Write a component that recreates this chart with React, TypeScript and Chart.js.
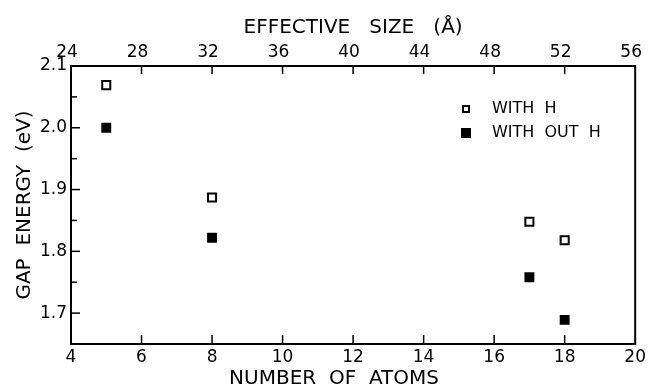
import React, { useEffect, useRef } from 'react';
import { Chart, registerables } from 'chart.js';

Chart.register(...registerables);

// ---- data ----
const atomsWithH = [5, 8, 17, 18];
const gapWithH = [2.069, 1.887, 1.848, 1.818];
const atomsWithoutH = [5, 8, 17, 18];
const gapWithoutH = [2.0, 1.822, 1.758, 1.689];
const seriesLabels = ['WITH  H', 'WITH  OUT  H'];
const atomTicks = [4, 6, 8, 10, 12, 14, 16, 18, 20];
const sizeTicks = [24, 28, 32, 36, 40, 44, 48, 52, 56];
const gapTickLabels = ['1.7', '1.8', '1.9', '2.0', '2.1'];
const xTitle = 'NUMBER  OF  ATOMS';
const x2Title = 'EFFECTIVE   SIZE   (Å)';
const yTitle = 'GAP  ENERGY  (eV)';

const FONT = 'DejaVu Sans';

const framePlugin = {
  id: 'frameTicks',
  afterDatasetsDraw(chart: any) {
    const { ctx, chartArea: ca, scales } = chart;
    ctx.save();
    ctx.strokeStyle = '#000';
    ctx.lineWidth = 2;
    ctx.strokeRect(ca.left, ca.top, ca.right - ca.left, ca.bottom - ca.top);
    ctx.lineWidth = 1.5;
    const eps = 1e-6;
    // y ticks (inward)
    const y = scales.y;
    y.ticks.forEach((t: any) => {
      if (Math.abs(t.value - y.min) < eps || Math.abs(t.value - y.max) < eps) return;
      const p = y.getPixelForValue(t.value);
      const major = Math.abs(t.value * 10 - Math.round(t.value * 10)) < 1e-6;
      const len = major ? 9 : 6;
      ctx.beginPath();
      ctx.moveTo(ca.left, p);
      ctx.lineTo(ca.left + len, p);
      ctx.stroke();
    });
    // bottom ticks
    const x = scales.x;
    x.ticks.forEach((t: any) => {
      if (Math.abs(t.value - x.min) < eps || Math.abs(t.value - x.max) < eps) return;
      const p = x.getPixelForValue(t.value);
      ctx.beginPath();
      ctx.moveTo(p, ca.bottom);
      ctx.lineTo(p, ca.bottom - 9);
      ctx.stroke();
    });
    // top ticks
    const x2 = scales.x2;
    x2.ticks.forEach((t: any) => {
      if (Math.abs(t.value - x2.min) < eps || Math.abs(t.value - x2.max) < eps) return;
      const p = x2.getPixelForValue(t.value);
      ctx.beginPath();
      ctx.moveTo(p, ca.top);
      ctx.lineTo(p, ca.top + 8);
      ctx.stroke();
    });
    // legend
    const items = [
      { x: 466, y: 109 },
      { x: 466, y: 133 },
    ];
    chart.data.datasets.forEach((ds: any, i: number) => {
      const it = items[i];
      const side = i === 0 ? 8 : 10;
      ctx.lineWidth = 2;
      if (i === 0) {
        ctx.fillStyle = '#fff';
        ctx.fillRect(it.x - side / 2, it.y - side / 2, side, side);
        ctx.strokeRect(it.x - side / 2 + 1, it.y - side / 2 + 1, side - 2, side - 2);
      } else {
        ctx.fillStyle = '#000';
        ctx.fillRect(it.x - side / 2, it.y - side / 2, side, side);
      }
      ctx.fillStyle = '#000';
      ctx.font = `16px "${FONT}"`;
      ctx.textAlign = 'left';
      ctx.textBaseline = 'middle';
      ctx.fillText(ds.label, 492, it.y);
    });
    ctx.restore();
  },
};

export default function App() {
  const ref = useRef<HTMLCanvasElement | null>(null);
  useEffect(() => {
    if (!ref.current) return;
    const chart = new Chart(ref.current, {
      type: 'scatter',
      data: {
        datasets: [
          {
            label: seriesLabels[0],
            data: atomsWithH.map((a, i) => ({ x: a, y: gapWithH[i] })),
            pointStyle: 'rect',
            pointRadius: 5.7,
            pointBorderWidth: 2,
            borderColor: '#000',
            backgroundColor: '#fff',
            pointBackgroundColor: '#fff',
            pointBorderColor: '#000',
          },
          {
            label: seriesLabels[1],
            data: atomsWithoutH.map((a, i) => ({ x: a, y: gapWithoutH[i] })),
            pointStyle: 'rect',
            pointRadius: 7,
            pointBorderWidth: 0,
            borderColor: '#000',
            backgroundColor: '#000',
            pointBackgroundColor: '#000',
            pointBorderColor: '#000',
          },
        ],
      },
      plugins: [framePlugin],
      options: {
        animation: false,
        responsive: false,
        maintainAspectRatio: false,
        layout: { padding: { left: 0, right: 9, top: 0, bottom: 0 } },
        plugins: {
          legend: { display: false },
          tooltip: { enabled: false },
        },
        scales: {
          x: {
            type: 'linear',
            position: 'bottom',
            min: atomTicks[0],
            max: atomTicks[atomTicks.length - 1],
            afterBuildTicks: (s: any) => {
              s.ticks = atomTicks.map((v) => ({ value: v }));
            },
            afterFit: (s: any) => {
              s.height = 48;
            },
            grid: { display: false, drawTicks: false },
            border: { display: false },
            ticks: {
              color: '#000',
              padding: 3,
              maxRotation: 0,
              autoSkip: false,
              font: { family: FONT, size: 17 },
              callback: (v: any) => String(v),
            },
            title: {
              display: true,
              text: xTitle + '      ',
              color: '#000',
              font: { family: FONT, size: 20 },
              padding: { top: 0, bottom: 1 },
            },
          },
          x2: {
            type: 'linear',
            position: 'top',
            min: sizeTicks[0],
            max: sizeTicks[sizeTicks.length - 1],
            afterBuildTicks: (s: any) => {
              s.ticks = sizeTicks.map((v) => ({ value: v }));
            },
            afterFit: (s: any) => {
              s.height = 66;
            },
            grid: { display: false, drawTicks: false },
            border: { display: false },
            ticks: {
              color: '#000',
              padding: 3,
              maxRotation: 0,
              autoSkip: false,
              labelOffset: -4,
              font: { family: FONT, size: 17 },
              callback: (v: any) => String(v),
            },
            title: {
              display: true,
              text: x2Title,
              color: '#000',
              font: { family: FONT, size: 20 },
              padding: { top: 16, bottom: 0 },
            },
          },
          y: {
            type: 'linear',
            position: 'left',
            min: 1.65,
            max: 2.1,
            afterBuildTicks: (s: any) => {
              const vals: number[] = [];
              for (let k = 0; k <= 9; k++) vals.push(Math.round((1.65 + k * 0.05) * 100) / 100);
              s.ticks = vals.map((v) => ({ value: v }));
            },
            afterFit: (s: any) => {
              s.width = 71;
            },
            grid: { display: false, drawTicks: false },
            border: { display: false },
            ticks: {
              color: '#000',
              padding: 4,
              autoSkip: false,
              font: { family: FONT, size: 17 },
              callback: (v: any) => {
                const s = Number(v).toFixed(1);
                return Math.abs(v * 10 - Math.round(v * 10)) < 1e-6 && gapTickLabels.includes(s) ? s : '';
              },
            },
            title: {
              display: true,
              text: yTitle,
              color: '#000',
              font: { family: FONT, size: 20 },
              padding: { top: 13, bottom: 0 },
            },
          },
        },
      },
    } as any);
    return () => chart.destroy();
  }, []);
  return (
    <div style={{ position: 'fixed', left: 0, top: 0, width: 649, height: 392, background: '#fff' }}>
      <canvas ref={ref} width={649} height={392} style={{ width: 649, height: 392 }} />
    </div>
  );
}
